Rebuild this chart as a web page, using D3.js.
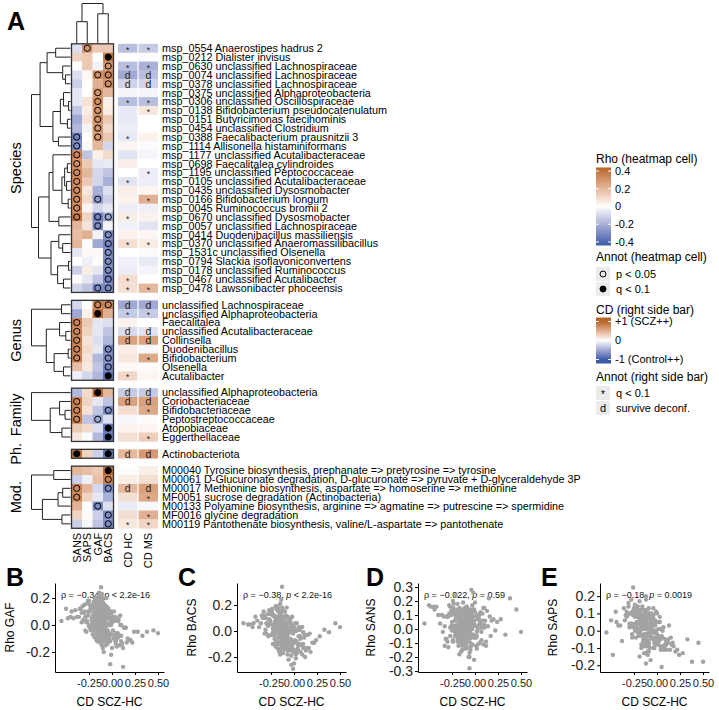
<!DOCTYPE html>
<html><head><meta charset="utf-8">
<script src="https://cdn.jsdelivr.net/npm/d3@7"></script>
<style>
body{margin:0;background:#fff}
svg text{font-family:"Liberation Sans",Arial,Helvetica,sans-serif}
</style>
</head><body>
<svg id="chart" width="719" height="710"></svg>
<script>
// ---------------- DATA ----------------
const rhoCols = ["SANS","SAPS","GAF","BACS"];
const cdCols = ["CD HC","CD MS"];

const speciesLabels = [
"msp_0554 Anaerostipes hadrus 2","msp_0212 Dialister invisus","msp_0630 unclassified Lachnospiraceae",
"msp_0074 unclassified Lachnospiraceae","msp_0378 unclassified Lachnospiraceae","msp_0375 unclassified Alphaproteobacteria",
"msp_0306 unclassified Oscillospiraceae","msp_0138 Bifidobacterium pseudocatenulatum","msp_0151 Butyricimonas faecihominis",
"msp_0454 unclassified Clostridium","msp_0388 Faecalibacterium prausnitzii 3","msp_1114 Allisonella histaminiformans",
"msp_1177 unclassified Acutalibacteraceae","msp_0698 Faecalitalea cylindroides","msp_1195 unclassified Peptococcaceae",
"msp_0105 unclassified Acutalibacteraceae","msp_0435 unclassified Dysosmobacter","msp_0166 Bifidobacterium longum",
"msp_0045 Ruminococcus bromii 2","msp_0670 unclassified Dysosmobacter","msp_0057 unclassified Lachnospiraceae",
"msp_0414 Duodenibacillus massiliensis","msp_0370 unclassified Anaeromassilibacillus","msp_1531c unclassified Olsenella",
"msp_0794 Slackia isoflavoniconvertens","msp_0178 unclassified Ruminococcus","msp_0467 unclassified Acutalibacter",
"msp_0478 Lawsonibacter phoceensis"];
const speciesRho = [
[-0.08,0.30,0.15,0.15],[0.12,0.15,0.00,0.38],[0.00,0.15,-0.03,0.30],[-0.08,0.02,0.32,0.35],
[-0.12,0.00,0.22,0.32],[-0.06,0.00,0.30,0.20],[-0.06,0.08,0.32,0.04],[-0.14,0.05,0.30,0.05],
[-0.22,0.08,0.30,0.15],[-0.18,-0.03,0.30,0.10],[-0.32,0.00,0.28,0.15],[-0.30,0.02,0.20,-0.10],
[0.35,-0.15,0.04,0.10],[0.32,0.15,-0.06,-0.05],[0.33,0.20,-0.10,-0.15],[0.33,0.15,-0.10,-0.20],
[0.33,0.07,-0.20,-0.08],[0.33,0.10,-0.25,-0.12],[0.33,0.03,-0.10,-0.06],[0.38,0.12,-0.33,-0.22],
[0.20,0.08,-0.30,-0.03],[0.18,0.22,-0.03,-0.30],[0.20,0.00,-0.22,-0.32],[-0.06,0.02,0.02,-0.30],
[0.00,-0.04,0.01,-0.30],[-0.12,0.05,-0.06,-0.30],[0.01,-0.06,-0.15,-0.33],[-0.10,-0.15,-0.30,-0.30]];
const speciesSig = [".o..","...x","...o","..oo","...o","..o.","..o.","..o.","..o.","..o.","o.o.","o...",
"o...","o...","o...","o...","o...","o.o.","o...","o.oo","..o.","...o","...o","...o","...o","...o","...o","..oo"];
const speciesCd = [
[-0.37,-0.30],[0.00,-0.02],[-0.37,-0.45],[-0.50,-0.37],[-0.25,-0.25],[-0.05,-0.05],[-0.37,-0.37],[-0.12,0.15],
[-0.12,0.00],[-0.10,0.00],[-0.12,0.08],[0.06,-0.02],[-0.15,-0.05],[0.10,0.00],[0.00,-0.10],[-0.15,-0.10],
[0.10,0.06],[0.08,0.50],[-0.10,-0.08],[0.12,0.08],[-0.08,-0.15],[0.08,0.05],[0.20,0.12],[0.00,-0.02],
[-0.08,-0.12],[-0.10,-0.06],[0.22,0.00],[0.20,0.45]];
const speciesCdAnnot = ["**","..","**","dd","dd","..","**",".*","..","..","*.","..","..","..",".*","*.",
"..",".*","..","*.","..","..","**","..","..","..","*.","**"];

const genusLabels = ["unclassified Lachnospiraceae","unclassified Alphaproteobacteria","Faecalitalea",
"unclassified Acutalibacteraceae","Collinsella","Duodenibacillus","Bifidobacterium","Olsenella","Acutalibacter"];
const genusRho = [[-0.10,0.00,0.35,0.35],[-0.22,0.04,0.42,0.22],[0.35,0.15,-0.06,-0.08],[0.33,0.12,-0.06,-0.15],
[0.35,0.08,-0.08,-0.18],[0.35,0.10,-0.06,-0.30],[0.35,0.08,-0.18,-0.30],[0.18,0.06,-0.15,-0.32],[-0.04,-0.10,-0.18,-0.38]];
const genusSig = ["..oo","..x.","o...","o...","o...","o..o","o..o","...o","...x"];
const genusCd = [[-0.50,-0.50],[-0.30,-0.30],[0.08,0.00],[-0.20,-0.15],[0.60,0.60],[0.10,-0.04],[0.15,0.55],[0.04,0.04],[0.25,0.06]];
const genusCdAnnot = ["dd","**","..","dd","dd","..",".*","..","*."];

const familyLabels = ["unclassified Alphaproteobacteria","Coriobacteriaceae","Bifidobacteriaceae",
"Peptostreptococcaceae","Atopobiaceae","Eggerthellaceae"];
const familyRho = [[-0.18,0.10,0.42,0.20],[0.35,0.12,-0.06,-0.15],[0.35,0.08,-0.15,-0.30],
[0.35,-0.15,-0.22,-0.08],[0.15,0.10,-0.08,-0.36],[0.06,-0.01,-0.18,-0.36]];
const familySig = ["..x.","o...","o..o","o.o.","...x","...x"];
const familyCd = [[-0.30,-0.30],[0.60,0.60],[0.20,0.55],[-0.04,0.02],[0.08,0.06],[0.20,0.30]];
const familyCdAnnot = ["dd","dd",".*","..","..",".*"];

const phylumLabels = ["Actinobacteriota"];
const phylumRho = [[0.40,0.12,-0.12,-0.36]];
const phylumSig = ["x..x"];
const phylumCd = [[0.45,0.65]];
const phylumCdAnnot = ["dd"];

const moduleLabels = [
"M00040 Tyrosine biosynthesis, prephanate => pretyrosine => tyrosine",
"M00061 D-Glucuronate degradation, D-glucuronate => pyruvate + D-glyceraldehyde 3P",
"M00017 Methionine biosynthesis, aspartate => homoserine => methionine",
"MF0051 sucrose degradation (Actinobacteria)",
"M00133 Polyamine biosynthesis, arginine => agmatine => putrescine => spermidine",
"MF0016 glycine degradation",
"M00119 Pantothenate biosynthesis, valine/L-aspartate => pantothenate"];
const moduleRho = [[0.20,0.18,0.15,0.42],[-0.12,-0.04,0.18,0.36],[0.33,0.20,-0.10,-0.30],[0.33,0.12,-0.06,-0.20],
[0.22,0.00,-0.30,-0.08],[0.12,0.01,-0.12,-0.30],[-0.12,-0.02,-0.15,-0.30]];
const moduleSig = ["...x","...o","o..o","o...","..o.","...o","...o"];
const moduleCd = [[0.02,0.10],[0.10,0.20],[0.45,0.60],[0.20,0.55],[-0.12,-0.04],[0.20,0.50],[0.15,0.25]];
const moduleCdAnnot = ["..","..","dd",".*","..",".*","**"];

// dendrograms: [height, left, right], leaves = row index
const speciesTree = [1.00,
  [0.78,
    [0.60,[0.38,0,1],[0.20,2,[0.13,3,4]]],
    [0.45,[0.26,[0.18,5,[0.05,6,7]],[0.08,8,9]],[0.31,10,11]]],
  [0.82,
    [0.55,[0.45,12,[0.22,[0.15,[0.08,13,14],[0.10,15,16]],[0.06,17,18]]],[0.30,19,20]],
    [0.50,[0.30,21,[0.20,22,23]],[0.33,[0.05,24,25],[0.18,26,27]]]]];
const genusTree = [1.00,[0.23,0,1],[0.62,[0.28,2,[0.12,3,4]],[0.42,[0.06,5,6],[0.18,7,8]]]];
const familyTree = [1.00,0,[0.52,[0.28,1,[0.14,2,3]],[0.22,4,5]]];
const moduleTree = [1.00,[0.43,0,1],[0.72,[0.32,[0.20,2,3],4],[0.22,5,6]]];
const columnTree = [1.00,[0.54,0,1],[0.74,2,3]];

const rhoLegendTicks = [0.4,0.2,0,-0.2,-0.4];
const cdLegendTicks = [[1,"+1 (SCZ++)"],[0,"0"],[-1,"-1 (Control++)"]];

// scatter data (one point per feature), x shared
const cdScz = [
-0.12,-0.05,-0.21,0.02,-0.15,-0.09,-0.30,-0.11,0.06,-0.18,
-0.07,-0.14,-0.25,0.00,-0.10,-0.03,-0.19,-0.13,0.10,-0.08,
-0.22,-0.16,-0.01,-0.12,-0.35,-0.06,0.04,-0.17,-0.11,-0.27,
-0.09,0.13,-0.20,-0.04,-0.14,-0.10,-0.23,0.01,-0.16,-0.08,
-0.13,-0.02,-0.28,-0.19,0.07,-0.11,-0.05,-0.15,-0.40,-0.10,
0.03,-0.18,-0.08,-0.24,-0.12,0.16,-0.07,-0.21,-0.14,-0.01,
-0.16,-0.09,-0.32,0.05,-0.13,-0.06,-0.19,-0.11,0.09,-0.26,
-0.04,-0.15,-0.10,-0.22,0.00,-0.17,-0.12,-0.45,-0.08,0.12,
-0.20,-0.03,-0.14,-0.09,-0.29,0.02,-0.18,-0.06,-0.13,0.20,
-0.11,-0.24,-0.07,0.08,-0.16,-0.02,-0.36,-0.12,-0.05,-0.19,
0.04,-0.13,-0.21,-0.09,0.14,-0.15,-0.27,-0.04,-0.10,-0.17,
-0.08,-0.31,0.01,-0.14,-0.06,-0.20,0.11,-0.12,-0.23,-0.03,
-0.16,0.06,-0.10,-0.50,-0.07,-0.18,-0.01,-0.13,0.24,-0.25,
-0.09,-0.14,-0.04,-0.21,0.03,-0.11,-0.33,-0.06,-0.17,0.15,
-0.12,-0.02,-0.19,-0.08,-0.26,0.07,-0.15,-0.10,-0.38,0.00,
-0.05,-0.22,-0.13,0.10,-0.07,-0.17,-0.28,-0.03,-0.11,0.18,
-0.14,-0.09,0.02,-0.20,-0.12,-0.42,-0.06,0.05,-0.16,-0.24,
-0.01,-0.13,-0.08,0.12,-0.18,-0.10,-0.30,-0.04,0.28,-0.15,
-0.11,-0.19,0.04,-0.07,-0.23,-0.55,0.09,-0.14,-0.02,0.38,
-0.17,-0.06,0.17,-0.12,-0.48,0.45,-0.09,0.33,0.50,-0.34,
-0.10,-0.13,-0.07,-0.16,-0.09,-0.11,-0.14,-0.06,-0.12,-0.08,
-0.15,-0.04,-0.18,-0.10,-0.13,-0.02,-0.20,-0.11,-0.07,-0.17,
-0.09,-0.12,-0.05,-0.22,-0.14,0.01,-0.10,-0.19,-0.03,-0.13,
-0.26,-0.08,-0.16,-0.11,0.04,-0.06,-0.21,-0.12,-0.15,-0.01,
-0.18,-0.10,-0.29,-0.05,-0.13,0.07,-0.09,-0.24,-0.14,-0.07,
-0.12,-0.17,0.00,-0.08,-0.20,-0.11,-0.33,-0.04,-0.15,0.10,
-0.06,-0.14,-0.23,-0.09,-0.02,-0.16,-0.12,0.03,-0.19,-0.10,
-0.13,-0.07,-0.18,0.06,-0.11,-0.25,-0.08,-0.15,-0.03,-0.21,
-0.16,-0.05,-0.12,-0.27,-0.09,0.02,-0.14,-0.19,-0.10,-0.06,
-0.22,-0.11,-0.04,-0.17,0.08,-0.13,-0.31,-0.08,0.22,-0.44];
const rhoGaf = [
0.08,-0.09,0.07,0.10,-0.01,-0.12,0.15,0.03,-0.10,0.14,
-0.01,0.08,-0.01,0.02,0.16,-0.10,0.06,-0.13,0.00,0.08,
0.13,-0.02,0.00,-0.06,0.12,0.12,-0.14,0.03,0.08,0.03,
-0.04,-0.02,0.17,-0.07,0.10,0.00,-0.04,0.04,0.18,-0.10,
0.05,0.07,0.02,-0.09,0.03,-0.04,-0.14,0.15,0.11,0.05,
0.05,0.00,-0.09,0.15,0.07,-0.13,0.14,-0.03,0.02,0.08,
-0.09,0.05,0.14,-0.07,0.13,0.01,-0.02,-0.15,0.00,0.18,
0.06,-0.06,0.20,0.03,-0.07,0.11,-0.09,0.06,0.03,-0.17,
0.05,0.10,-0.05,0.06,-0.04,0.03,0.17,-0.08,0.09,-0.11,
-0.01,0.10,0.10,-0.15,-0.12,0.06,0.06,0.13,-0.04,0.20,
0.06,-0.03,-0.07,0.13,-0.02,0.04,0.16,-0.09,-0.17,0.09,
0.05,0.09,0.06,-0.11,0.00,0.13,-0.14,0.17,-0.01,0.00,
0.15,0.03,-0.06,0.12,-0.11,-0.06,0.10,0.06,-0.05,0.18,
-0.07,0.24,0.05,0.00,-0.11,0.10,0.02,0.20,-0.11,-0.02,
0.28,-0.12,0.10,-0.01,0.07,0.05,-0.04,0.06,0.06,-0.17,
0.13,-0.03,0.12,-0.12,0.04,0.08,-0.05,-0.06,0.23,-0.11,
-0.04,-0.09,0.03,0.15,-0.11,0.05,0.08,-0.16,0.03,-0.02,
-0.22,0.11,-0.03,-0.31,0.06,-0.06,0.10,0.12,-0.05,0.20,
0.07,-0.04,-0.12,-0.15,0.12,0.03,0.07,0.00,-0.29,-0.05,
0.02,-0.12,-0.10,0.22,0.05,-0.04,-0.20,-0.08,-0.06,0.12,
0.04,-0.06,0.10,0.01,-0.03,0.07,-0.10,0.12,0.00,0.05,
0.09,-0.08,0.02,0.14,-0.05,0.03,0.06,-0.12,0.08,-0.01,
0.00,0.11,-0.07,0.05,0.15,-0.04,0.02,0.09,-0.09,0.06,
0.10,0.04,-0.02,0.08,-0.06,0.13,0.01,-0.05,0.07,0.02,
0.03,0.17,0.06,-0.04,0.09,-0.07,0.00,0.11,-0.08,0.14,
-0.05,0.07,0.04,0.10,0.02,-0.11,0.09,0.01,0.12,-0.08,
0.06,0.00,0.13,-0.03,0.05,0.08,0.19,-0.09,-0.02,0.04,
0.11,-0.01,0.04,-0.06,0.07,0.00,0.15,-0.04,0.09,0.06,
0.02,0.12,-0.05,0.07,0.03,-0.10,0.05,0.14,-0.03,0.08,
-0.02,0.09,0.00,0.06,-0.08,0.11,0.04,-0.06,-0.13,0.10];
const rhoBacs = [
0.02,0.07,-0.06,0.00,0.12,-0.06,0.06,-0.12,0.01,0.16,
-0.12,0.06,0.14,-0.08,-0.02,0.04,-0.12,0.03,-0.13,0.11,
-0.03,0.14,-0.02,-0.17,0.12,0.07,-0.13,-0.02,0.08,0.08,
0.03,-0.15,0.10,-0.15,-0.08,0.15,-0.01,0.06,-0.10,0.00,
0.18,-0.14,0.04,0.08,-0.04,-0.08,0.09,-0.14,0.08,0.04,
-0.17,0.05,-0.08,0.16,0.07,-0.13,-0.18,-0.06,0.11,0.01,
0.09,-0.14,-0.02,-0.04,0.34,0.06,0.07,-0.06,-0.18,0.13,
0.09,-0.03,-0.11,0.02,-0.25,0.15,-0.07,0.03,0.01,-0.03,
0.19,0.00,0.08,-0.12,0.13,-0.21,-0.10,0.00,-0.03,-0.09,
0.06,0.05,-0.15,0.03,-0.05,0.11,0.06,-0.13,0.02,-0.06,
-0.14,0.11,0.07,0.02,-0.13,-0.18,0.16,0.07,-0.11,0.04,
0.06,0.01,-0.15,0.15,-0.10,-0.12,-0.05,0.03,0.12,-0.19,
-0.09,0.01,0.11,0.05,0.02,0.19,-0.16,0.05,-0.07,-0.03,
0.12,-0.11,0.06,-0.03,0.06,0.01,0.12,-0.22,0.17,-0.03,
-0.15,0.02,-0.08,0.18,0.08,-0.16,0.09,-0.02,0.03,0.03,
-0.09,0.12,0.02,-0.01,0.11,-0.14,-0.04,-0.26,0.00,-0.16,
0.24,0.03,-0.18,-0.09,0.16,0.11,-0.08,0.03,-0.16,0.17,
-0.29,0.06,0.11,-0.20,0.00,-0.11,-0.02,0.01,-0.04,0.21,
-0.05,0.17,0.01,-0.01,-0.10,0.06,0.03,-0.08,0.02,-0.01,
0.10,-0.06,-0.02,0.00,0.05,0.06,-0.13,0.01,0.03,0.10,
-0.04,0.08,-0.07,0.02,0.05,-0.10,0.13,-0.02,0.04,-0.06,
0.07,-0.09,0.03,-0.05,0.10,-0.12,0.01,0.06,-0.08,0.09,
-0.01,0.04,-0.11,0.12,-0.03,-0.07,0.08,0.00,-0.14,0.05,
0.06,-0.04,0.09,-0.08,-0.10,0.02,0.11,0.03,-0.05,-0.09,
0.10,0.00,0.05,-0.13,0.07,-0.06,-0.02,0.14,0.01,-0.11,
0.03,0.06,-0.09,0.01,0.08,-0.04,0.15,-0.07,0.12,-0.10,
-0.06,0.10,0.02,0.05,-0.12,0.07,-0.03,-0.08,0.04,0.00,
0.05,-0.02,0.09,-0.10,-0.05,0.13,0.02,0.08,-0.07,0.04,
-0.03,-0.10,0.06,0.09,0.00,-0.15,0.04,0.11,-0.04,-0.07,
0.12,0.01,-0.06,0.07,-0.11,-0.01,0.10,0.03,-0.09,0.06];
const rhoSans = [
0.04,-0.06,0.11,-0.02,0.07,0.15,-0.09,0.01,0.05,-0.12,
0.09,-0.03,0.02,0.12,-0.08,0.06,0.18,-0.11,0.03,0.00,
-0.05,0.08,0.14,0.03,-0.02,-0.13,0.07,0.10,-0.07,0.16,
0.01,0.13,-0.04,0.09,-0.15,0.04,0.11,-0.06,0.02,0.08,
-0.10,0.05,0.17,-0.01,-0.08,0.12,-0.03,0.06,0.10,-0.14,
0.07,-0.09,0.03,0.20,0.00,0.09,-0.05,0.14,-0.12,0.04,
0.11,0.02,-0.07,-0.10,0.06,-0.17,0.08,0.01,0.15,0.13,
-0.04,0.10,0.05,-0.02,0.19,-0.08,0.03,0.16,-0.06,-0.09,
0.12,-0.11,0.08,0.04,-0.13,0.02,0.06,-0.20,0.09,0.07,
-0.02,0.15,-0.06,0.11,0.03,-0.04,0.10,0.05,-0.15,0.01,
0.08,-0.07,0.24,-0.09,0.02,0.11,-0.05,0.07,0.00,-0.18,
0.05,0.09,-0.12,0.01,0.14,-0.03,0.06,-0.10,0.18,0.03,
-0.08,0.12,0.04,0.17,-0.05,0.07,-0.22,0.10,0.05,-0.01,
0.16,-0.04,0.00,0.09,-0.11,0.13,0.02,-0.07,0.08,0.22,
0.03,0.26,-0.09,0.06,0.10,-0.02,-0.16,0.12,0.04,-0.06,
-0.13,0.01,0.08,0.15,-0.20,0.05,0.11,0.00,-0.03,0.06,
0.10,-0.05,-0.14,0.02,0.07,0.16,-0.28,0.04,0.12,-0.08,
0.06,0.19,0.03,-0.12,0.01,-0.10,0.09,0.28,0.07,0.05,
-0.03,-0.07,0.10,0.02,0.13,0.04,-0.11,0.08,-0.06,0.22,
0.15,0.00,-0.05,0.10,0.16,0.14,-0.02,-0.04,-0.02,0.09,
0.06,-0.02,0.09,0.00,0.13,-0.07,0.03,0.10,-0.04,0.05,
-0.01,0.11,0.04,-0.09,0.07,0.02,-0.05,0.15,0.01,0.08,
0.12,-0.06,0.03,0.06,-0.10,0.09,0.00,-0.03,0.14,-0.08,
0.02,0.08,-0.11,0.04,0.10,-0.02,0.07,0.13,-0.06,0.03,
-0.04,0.05,0.09,0.12,-0.07,0.01,0.16,-0.09,0.04,0.07,
0.09,0.00,-0.05,0.06,0.03,0.11,-0.12,0.08,-0.02,0.01,
0.04,0.14,0.02,-0.07,0.09,-0.04,0.06,0.00,0.10,-0.11,
-0.06,0.07,0.12,0.03,-0.02,0.05,0.10,-0.08,0.17,0.00,
0.08,-0.10,0.05,0.01,0.11,-0.05,0.02,0.07,-0.13,0.04,
0.00,0.03,0.13,-0.04,0.06,0.09,-0.07,0.11,-0.01,0.14];
const rhoSaps = [
-0.03,0.05,0.08,-0.06,0.02,0.10,0.04,-0.09,0.00,0.06,
0.07,-0.02,0.11,-0.05,0.03,-0.10,0.01,0.08,-0.07,0.04,
0.02,-0.08,0.05,0.12,0.06,0.00,-0.11,0.03,0.09,-0.04,
-0.06,0.03,-0.01,0.07,-0.13,0.05,0.09,-0.03,0.14,0.01,
0.10,-0.07,0.04,0.00,-0.09,0.06,-0.04,0.12,0.03,-0.02,
-0.04,0.08,0.02,0.15,-0.06,-0.08,0.05,-0.01,0.07,0.11,
0.06,-0.12,0.09,-0.03,0.01,0.04,-0.15,0.08,-0.05,0.02,
0.13,0.01,-0.06,0.05,-0.02,0.09,0.03,0.11,-0.10,-0.07,
-0.01,0.06,0.12,-0.08,0.04,-0.05,0.10,0.02,-0.03,-0.12,
0.08,0.00,-0.04,-0.09,0.06,0.03,0.13,-0.06,0.05,0.17,
-0.05,0.11,0.01,0.04,-0.11,0.07,-0.02,0.09,-0.14,0.05,
0.03,0.16,-0.08,0.02,0.10,-0.03,-0.06,0.06,0.01,-0.10,
0.09,-0.04,0.07,0.06,-0.17,0.12,0.00,-0.05,-0.14,0.04,
-0.02,0.05,-0.10,0.14,0.08,-0.06,0.11,0.03,-0.08,-0.04,
0.20,-0.08,0.04,0.01,0.25,0.02,-0.03,0.07,-0.06,0.10,
0.04,0.09,-0.13,-0.11,0.02,0.06,0.18,-0.07,0.12,-0.09,
-0.07,0.13,0.05,0.00,-0.19,0.03,0.08,-0.21,0.05,0.14,
0.11,-0.03,0.06,-0.05,0.09,-0.12,0.02,0.00,-0.13,0.07,
0.01,0.07,-0.09,0.10,-0.04,-0.01,-0.08,0.04,0.06,-0.18,
-0.10,0.02,-0.07,0.18,-0.14,-0.07,0.05,-0.05,-0.18,0.09,
0.02,-0.05,0.06,0.09,-0.01,0.04,-0.07,0.03,0.08,-0.03,
-0.06,0.04,0.00,0.07,-0.09,0.05,0.11,-0.02,0.03,0.06,
0.05,0.01,-0.04,0.10,0.06,-0.08,0.02,0.07,-0.01,-0.05,
0.09,-0.03,0.07,-0.06,0.01,0.04,0.12,-0.04,0.02,0.00,
-0.02,0.06,0.10,-0.01,0.03,-0.11,0.05,0.08,-0.06,0.04,
0.07,0.02,-0.07,0.05,0.11,-0.03,0.08,0.00,0.04,-0.08,
0.01,-0.06,0.09,0.03,-0.04,0.06,-0.02,0.05,0.10,0.02,
-0.08,0.03,0.05,-0.10,0.07,0.13,0.00,-0.05,0.04,0.08,
0.06,-0.01,0.02,0.11,-0.07,0.01,0.04,-0.03,0.09,-0.04,
0.04,0.07,-0.05,0.01,-0.09,0.03,0.14,0.06,-0.11,0.05];

const xTicks = [-0.25,0,0.25,0.5];

// ---------------- DRAW ----------------
const svg = d3.select("#chart");
const FS = '"Liberation Sans",Arial,Helvetica,sans-serif';
const LOW="#3A5BA7", HIGH="#B7652C";
const rhoColor = d3.scaleLinear().domain([-0.44,0,0.44]).range([LOW,"#FFFFFF",HIGH]).interpolate(d3.interpolateLab).clamp(true);
const cdColor = d3.scaleLinear().domain([-1,0,1]).range([LOW,"#FFFFFF",HIGH]).interpolate(d3.interpolateLab).clamp(true);

const blocks = [
 {name:"Species",labels:speciesLabels,rho:speciesRho,sig:speciesSig,cd:speciesCd,ann:speciesCdAnnot,tree:speciesTree},
 {name:"Genus",labels:genusLabels,rho:genusRho,sig:genusSig,cd:genusCd,ann:genusCdAnnot,tree:genusTree},
 {name:"Family",labels:familyLabels,rho:familyRho,sig:familySig,cd:familyCd,ann:familyCdAnnot,tree:familyTree},
 {name:"Ph.",labels:phylumLabels,rho:phylumRho,sig:phylumSig,cd:phylumCd,ann:phylumCdAnnot,tree:null},
 {name:"Mod.",labels:moduleLabels,rho:moduleRho,sig:moduleSig,cd:moduleCd,ann:moduleCdAnnot,tree:moduleTree}
];
const rowH = 8.88, gapH = 7.9;
let yCur = 43.8;
blocks.forEach(b=>{
  b.y0 = yCur; b.y1 = yCur + b.labels.length*rowH; yCur = b.y1 + gapH;
  b.ys = d3.scaleBand().domain(d3.range(b.labels.length)).range([b.y0,b.y1]);
});
const xHm = d3.scaleBand().domain(rhoCols).range([71.5,113.5]);
const xCd = d3.scaleBand().domain(cdCols).range([118,158]).paddingInner(0.06);
const labelX = 162;

svg.append("text").attr("x",7).attr("y",30).attr("font-size",25).attr("font-weight","bold").text("A");

// column dendrogram
(function(){
  const hy = d3.scaleLinear().domain([0,1]).range([43,3.5]);
  const g = svg.append("g").attr("fill","none").attr("stroke","#222").attr("stroke-width",1);
  function rec(n){
    if (typeof n === "number") return {x:xHm(rhoCols[n])+xHm.bandwidth()/2,h:0};
    const L=rec(n[1]),R=rec(n[2]),y=hy(n[0]);
    g.append("path").attr("d",`M${L.x},${hy(L.h)}V${y}H${R.x}V${hy(R.h)}`);
    return {x:(L.x+R.x)/2,h:n[0]};
  }
  rec(columnTree);
})();

function drawRowTree(tree,b){
  const hx = d3.scaleLinear().domain([0,1]).range([70.5,31.5]);
  const g = svg.append("g").attr("fill","none").attr("stroke","#222").attr("stroke-width",1);
  function rec(n){
    if (typeof n === "number") return {y:b.ys(n)+b.ys.bandwidth()/2,h:0};
    const L=rec(n[1]),R=rec(n[2]),x=hx(n[0]);
    g.append("path").attr("d",`M${hx(L.h)},${L.y}H${x}V${R.y}H${hx(R.h)}`);
    return {y:(L.y+R.y)/2,h:n[0]};
  }
  rec(tree);
}

blocks.forEach(b=>{
  const g = svg.append("g");
  const bw = b.ys.bandwidth();
  b.rho.forEach((row,i)=>{
    row.forEach((v,j)=>{
      g.append("rect").attr("x",xHm(rhoCols[j])).attr("y",b.ys(i)).attr("width",xHm.bandwidth()+0.3).attr("height",bw+0.3)
        .attr("fill",rhoColor(v));
    });
  });
  b.sig.forEach((s,i)=>{
    s.split("").forEach((c,j)=>{
      if(c==="."){return;}
      g.append("circle").attr("cx",xHm(rhoCols[j])+xHm.bandwidth()/2).attr("cy",b.ys(i)+bw/2).attr("r",3.1)
        .attr("fill",c==="x"?"#000":"none").attr("stroke","#000").attr("stroke-width",1);
    });
  });
  g.append("rect").attr("x",71.5).attr("y",b.y0).attr("width",42).attr("height",b.y1-b.y0)
    .attr("fill","none").attr("stroke","#333").attr("stroke-width",1.3);
  b.cd.forEach((row,i)=>{
    row.forEach((v,j)=>{
      g.append("rect").attr("x",xCd(cdCols[j])).attr("y",b.ys(i)).attr("width",xCd.bandwidth()).attr("height",bw+0.3)
        .attr("fill",cdColor(v));
      const a = b.ann[i][j];
      const cx = xCd(cdCols[j])+xCd.bandwidth()/2, cy = b.ys(i)+bw/2;
      if(a==="*") g.append("text").attr("x",cx).attr("y",cy+4.6).attr("text-anchor","middle").attr("font-size",8.5).attr("fill","#222").text("*");
      if(a==="d") g.append("text").attr("x",cx).attr("y",cy+3.8).attr("text-anchor","middle").attr("font-size",10.5).attr("fill","#222").text("d");
    });
  });
  b.labels.forEach((t,i)=>{
    g.append("text").attr("x",labelX).attr("y",b.ys(i)+bw/2).attr("dy","0.36em").attr("font-size",10.8).attr("fill","#000").text(t);
  });
  g.append("text").attr("transform",`translate(21,${(b.y0+b.y1)/2}) rotate(-90)`).attr("text-anchor","middle")
    .attr("font-size",14.5).attr("fill","#000").text(b.name);
  if(b.tree) drawRowTree(b.tree,b);
});

const lastY = blocks[blocks.length-1].y1;
rhoCols.forEach(c=>{
  svg.append("text").attr("transform",`translate(${xHm(c)+xHm.bandwidth()/2},${lastY+4.5}) rotate(-90)`)
    .attr("text-anchor","end").attr("dy","0.36em").attr("font-size",11).text(c);
});
cdCols.forEach(c=>{
  svg.append("text").attr("transform",`translate(${xCd(c)+xCd.bandwidth()/2},${lastY+4.5}) rotate(-90)`)
    .attr("text-anchor","end").attr("dy","0.36em").attr("font-size",11).text(c);
});

// ---------------- LEGENDS ----------------
const LX = 596;
const defs = svg.append("defs");
function gradient(id,scale,dom){
  const gr = defs.append("linearGradient").attr("id",id).attr("x1",0).attr("x2",0).attr("y1",0).attr("y2",1);
  d3.range(0,1.0001,0.05).forEach(t=>{
    gr.append("stop").attr("offset",t).attr("stop-color",scale(dom[1]-(dom[1]-dom[0])*t));
  });
}
svg.append("text").attr("x",LX).attr("y",163).attr("font-size",12).text("Rho (heatmap cell)");
const rhoLeg = d3.scaleLinear().domain([-0.44,0.44]).range([245.5,167.5]);
gradient("gRho",rhoColor,[-0.44,0.44]);
svg.append("rect").attr("x",LX).attr("y",167.5).attr("width",15).attr("height",78).attr("fill","url(#gRho)");
rhoLegendTicks.forEach(t=>{
  const y = rhoLeg(t);
  svg.append("line").attr("x1",LX).attr("x2",LX+3).attr("y1",y).attr("y2",y).attr("stroke","#fff").attr("stroke-width",1);
  svg.append("line").attr("x1",LX+12).attr("x2",LX+15).attr("y1",y).attr("y2",y).attr("stroke","#fff").attr("stroke-width",1);
  svg.append("text").attr("x",LX+19).attr("y",y).attr("dy","0.36em").attr("font-size",11).text(String(t));
});
svg.append("text").attr("x",LX).attr("y",261).attr("font-size",12).text("Annot (heatmap cell)");
[["p < 0.05","none",267],["q < 0.1","#000",282]].forEach(([lab,fill,y])=>{
  svg.append("rect").attr("x",LX).attr("y",y).attr("width",14).attr("height",14).attr("fill","#EBEBEB");
  svg.append("circle").attr("cx",LX+7).attr("cy",y+7).attr("r",3).attr("fill",fill).attr("stroke","#000");
  svg.append("text").attr("x",LX+20).attr("y",y+7).attr("dy","0.36em").attr("font-size",11).text(lab);
});
svg.append("text").attr("x",LX).attr("y",314).attr("font-size",12).text("CD (right side bar)");
const cdLeg = d3.scaleLinear().domain([-1.21,1.21]).range([363.5,317.5]);
gradient("gCd",cdColor,[-1.21,1.21]);
svg.append("rect").attr("x",LX).attr("y",317.5).attr("width",15).attr("height",46).attr("fill","url(#gCd)");
cdLegendTicks.forEach(([v,lab])=>{
  const y = cdLeg(v);
  svg.append("line").attr("x1",LX).attr("x2",LX+3).attr("y1",y).attr("y2",y).attr("stroke","#fff");
  svg.append("line").attr("x1",LX+12).attr("x2",LX+15).attr("y1",y).attr("y2",y).attr("stroke","#fff");
  svg.append("text").attr("x",LX+19).attr("y",y).attr("dy","0.36em").attr("font-size",11).text(lab);
});
svg.append("text").attr("x",LX).attr("y",381).attr("font-size",12).text("Annot (right side bar)");
[["*","q < 0.1",386],["d","survive deconf.",401]].forEach(([sym,lab,y])=>{
  svg.append("rect").attr("x",LX).attr("y",y).attr("width",14).attr("height",14).attr("fill","#EBEBEB");
  svg.append("text").attr("x",LX+7).attr("y",sym==="*"?y+12:y+11).attr("text-anchor","middle").attr("font-size",sym==="*"?10:11).text(sym);
  svg.append("text").attr("x",LX+20).attr("y",y+7).attr("dy","0.36em").attr("font-size",11).text(lab);
});

// ---------------- SCATTER PANELS ----------------
const panels = [
 {letter:"B",lx:6,ys:rhoGaf,title:"Rho GAF",left:55,tx:14,dom:[-0.348,0.311],ticks:[-0.2,0,0.2],rho:"−0.34",pv:"< 2.2e-16"},
 {letter:"C",lx:178,ys:rhoBacs,title:"Rho BACS",left:237,tx:196,dom:[-0.315,0.369],ticks:[-0.2,0,0.2],rho:"−0.38",pv:"< 2.2e-16"},
 {letter:"D",lx:366,ys:rhoSans,title:"Rho SANS",left:418,tx:375,dom:[-0.307,0.329],ticks:[-0.3,-0.2,-0.1,0,0.1,0.2,0.3],rho:"−0.022",pv:"= 0.59"},
 {letter:"E",lx:541,ys:rhoSaps,title:"Rho SAPS",left:600,tx:557,dom:[-0.239,0.276],ticks:[-0.2,-0.1,0,0.1,0.2],rho:"−0.18",pv:"= 0.0019"}
];
const PT=583, PB=672, PW=109;
const f1 = d=>d3.format(".1f")(d).replace("−","-");
const f2 = d=>d3.format(".2f")(d).replace("−","-");
panels.forEach(p=>{
  const x = d3.scaleLinear().domain([-0.62,0.565]).range([p.left,p.left+PW]);
  const y = d3.scaleLinear().domain(p.dom).range([PB,PT]);
  const g = svg.append("g");
  g.append("text").attr("x",p.lx).attr("y",586).attr("font-size",25).attr("font-weight","bold").text(p.letter);
  const t = g.append("text").attr("x",p.left+6).attr("y",598).attr("font-size",9).attr("fill","#111");
  t.append("tspan").text("ρ = "+p.rho+", ");
  t.append("tspan").attr("font-style","italic").text("p");
  t.append("tspan").text(" "+p.pv);
  g.selectAll("circle").data(cdScz.map((v,i)=>[v,p.ys[i]])).join("circle")
    .attr("cx",d=>x(d[0])).attr("cy",d=>y(d[1])).attr("r",2.2).attr("fill","#A3A3A3");
  const ax = g.append("g").attr("transform",`translate(${p.left},0)`)
    .call(d3.axisLeft(y).tickValues(p.ticks).tickFormat(f1).tickSize(3).tickSizeOuter(0).tickPadding(2));
  ax.selectAll("text").attr("font-size",14).attr("fill","#222").attr("font-family",FS);
  const bx = g.append("g").attr("transform",`translate(0,${PB})`)
    .call(d3.axisBottom(x).tickValues(xTicks).tickFormat(f2).tickSize(3).tickSizeOuter(0).tickPadding(4));
  bx.selectAll("text").attr("font-size",11).attr("fill","#222").attr("font-family",FS);
  [ax,bx].forEach(a=>{a.select(".domain").attr("stroke","#000");a.selectAll(".tick line").attr("stroke","#000");});
  g.append("text").attr("x",p.left+PW/2).attr("y",706).attr("text-anchor","middle").attr("font-size",12).text("CD SCZ-HC");
  g.append("text").attr("transform",`translate(${p.tx},${(PT+PB)/2}) rotate(-90)`).attr("text-anchor","middle").attr("font-size",12).text(p.title);
});
</script>
</body></html>
